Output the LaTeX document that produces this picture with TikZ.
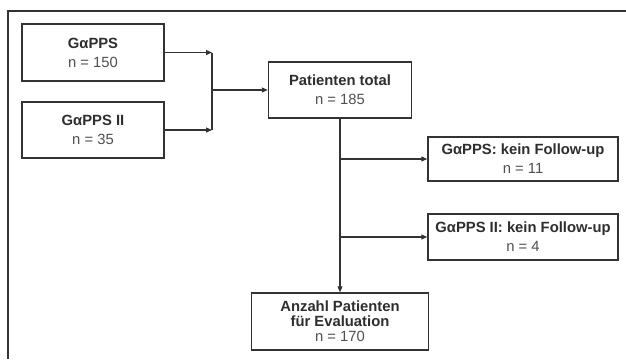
\documentclass[tikz,border=0pt]{standalone}
\usepackage{fontspec}
\setmainfont{Liberation Sans}
\usetikzlibrary{arrows.meta}
\definecolor{linec}{HTML}{333333}
\definecolor{titlec}{HTML}{2E2E2E}
\definecolor{numc}{HTML}{505050}
\tikzset{
  box/.style={draw=linec, line width=1.5pt, fill=white, align=center, inner sep=0pt,
    font=\fontsize{14.8}{19}\selectfont, text=numc},
  conn/.style={draw=linec, line width=1.2pt},
  arr/.style={conn, -{Triangle[length=6pt,width=5pt]}},
  frame/.style={draw=linec, line width=1.2pt}
}
\newcommand{\ttl}[1]{\textcolor{titlec}{\bfseries #1}}
\begin{document}
\begin{tikzpicture}[x=1pt,y=-1pt]
\useasboundingbox (0,0) rectangle (626,359);
\draw[frame] (8,359) -- (8,11) -- (626,11);
\node[box, minimum width=142pt, minimum height=57pt] (a) at (93,52.5) {\ttl{GαPPS}\\n = 150};
\node[box, minimum width=142pt, minimum height=56pt] (b) at (93,130) {\ttl{GαPPS II}\\n = 35};
\node[box, minimum width=143pt, minimum height=56pt] (c) at (340,90) {\ttl{Patienten total}\\n = 185};
\node[box, minimum width=190pt, minimum height=44pt] (d) at (523,159) {\ttl{GαPPS: kein Follow-up}\\n = 11};
\node[box, minimum width=190pt, minimum height=46pt] (e) at (523,237) {\ttl{GαPPS II: kein Follow-up}\\n = 4};
\node[box, minimum width=177pt, minimum height=57pt, font=\fontsize{14.8}{15}\selectfont] (f) at (340,321.5) {\ttl{Anzahl Patienten}\\\ttl{für Evaluation}\\n = 170};
\coordinate (jx) at (212,90);
\draw[arr] (a.east) -- (a.east -| jx);
\draw[arr] (b.east) -- (b.east -| jx);
\draw[conn] (a.east -| jx) -- (b.east -| jx);
\draw[arr] (jx) -- (c.west);
\draw[arr] (c.south) -- (f.north);
\draw[arr] (c.south |- d.west) -- (d.west);
\draw[arr] (c.south |- e.west) -- (e.west);
\end{tikzpicture}
\end{document}
